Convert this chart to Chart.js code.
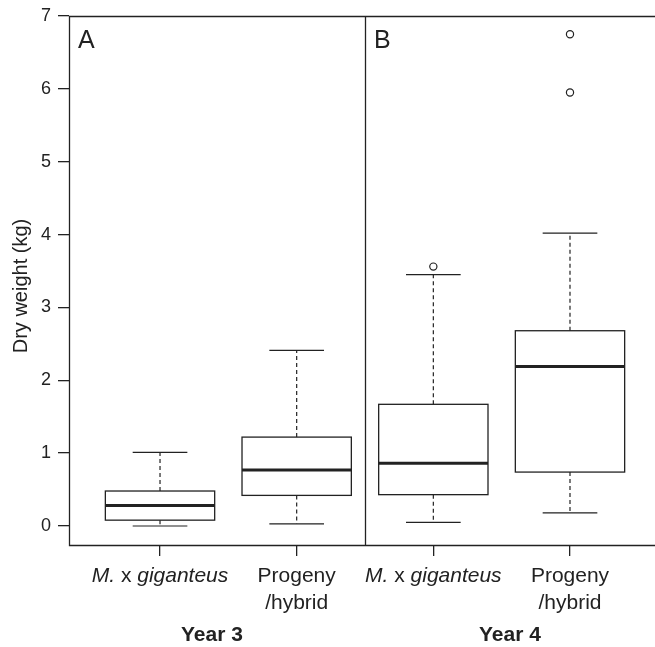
<!DOCTYPE html>
<html>
<head>
<meta charset="utf-8">
<script src="https://cdn.jsdelivr.net/npm/chart.js@4.4.1/dist/chart.umd.min.js"></script>
<style>
  html, body { margin: 0; padding: 0; background: #fff; }
  #wrap { width: 655px; height: 647px; }
</style>
</head>
<body>
<div id="wrap"><canvas id="c" width="655" height="647"></canvas></div>
<script>
// ---- data ----
const categories = ['M. x giganteus', 'Progeny/hybrid', 'M. x giganteus', 'Progeny/hybrid'];
const positions = [1, 2, 3, 4];
const years = ['Year 3', 'Year 4'];
const panels = ['A', 'B'];
const whiskerLow  = [0.00, 0.03, 0.05, 0.18];
const q1          = [0.08, 0.42, 0.43, 0.74];
const median      = [0.28, 0.77, 0.86, 2.19];
const q3          = [0.48, 1.22, 1.67, 2.68];
const whiskerHigh = [1.01, 2.41, 3.45, 4.02];
const outlierX = [3, 4, 4];
const outlierY = [3.56, 5.95, 6.75];
const yTicks = [0, 1, 2, 3, 4, 5, 6, 7];

const FONT = '"Liberation Sans", Arial, Helvetica, sans-serif';
const INK = '#222';

const boxPlugin = {
  id: 'boxes',
  beforeDatasetsDraw(chart) {
    const ctx = chart.ctx;
    const xs = chart.scales.x, ys = chart.scales.y;
    const ca = chart.chartArea;
    ctx.save();
    // frame (open on the right)
    ctx.strokeStyle = INK;
    ctx.lineWidth = 1.3;
    ctx.beginPath();
    ctx.moveTo(ca.right, ca.top + 0.5);
    ctx.lineTo(ca.left + 0.5, ca.top + 0.5);
    ctx.lineTo(ca.left + 0.5, ca.bottom + 0.5);
    ctx.lineTo(ca.right, ca.bottom + 0.5);
    const xd = Math.round(xs.getPixelForValue(2.5)) + 0.5;
    ctx.moveTo(xd, ca.top);
    ctx.lineTo(xd, ca.bottom);
    ctx.stroke();

    const boxHalf = 0.4, capHalf = 0.2;
    for (let i = 0; i < positions.length; i++) {
      const p = positions[i];
      const xc = xs.getPixelForValue(p);
      const xl = xs.getPixelForValue(p - boxHalf);
      const xr = xs.getPixelForValue(p + boxHalf);
      const cl = xs.getPixelForValue(p - capHalf);
      const cr = xs.getPixelForValue(p + capHalf);
      const yLo = ys.getPixelForValue(whiskerLow[i]);
      const yQ1 = ys.getPixelForValue(q1[i]);
      const yMd = ys.getPixelForValue(median[i]);
      const yQ3 = ys.getPixelForValue(q3[i]);
      const yHi = ys.getPixelForValue(whiskerHigh[i]);
      // whiskers dashed
      ctx.lineWidth = 1.2;
      ctx.strokeStyle = INK;
      ctx.setLineDash([4, 3]);
      ctx.beginPath();
      ctx.moveTo(xc, yQ3); ctx.lineTo(xc, yHi);
      ctx.moveTo(xc, yQ1); ctx.lineTo(xc, yLo);
      ctx.stroke();
      ctx.setLineDash([]);
      // caps
      ctx.beginPath();
      ctx.moveTo(cl, yHi); ctx.lineTo(cr, yHi);
      ctx.moveTo(cl, yLo); ctx.lineTo(cr, yLo);
      ctx.stroke();
      // box
      ctx.lineWidth = 1.3;
      ctx.strokeRect(xl, yQ3, xr - xl, yQ1 - yQ3);
      // median
      ctx.lineWidth = 3;
      ctx.beginPath();
      ctx.moveTo(xl, yMd); ctx.lineTo(xr, yMd);
      ctx.stroke();
    }
    ctx.restore();
  },
  afterDraw(chart) {
    const ctx = chart.ctx;
    const xs = chart.scales.x, ys = chart.scales.y;
    const ca = chart.chartArea;
    ctx.save();
    ctx.fillStyle = INK;
    ctx.textBaseline = 'alphabetic';
    // category labels
    const catSize = 21;
    for (let i = 0; i < categories.length; i++) {
      const xc = xs.getPixelForValue(positions[i]);
      const lab = categories[i];
      if (lab.startsWith('M. x')) {
        const parts = [
          { t: 'M.', it: true }, { t: ' x ', it: false }, { t: 'giganteus', it: true }
        ];
        let total = 0;
        parts.forEach(pt => {
          ctx.font = (pt.it ? 'italic ' : '') + catSize + 'px ' + FONT;
          pt.w = ctx.measureText(pt.t).width; total += pt.w;
        });
        let x = xc - total / 2;
        ctx.textAlign = 'left';
        parts.forEach(pt => {
          ctx.font = (pt.it ? 'italic ' : '') + catSize + 'px ' + FONT;
          ctx.fillText(pt.t, x, 582);
          x += pt.w;
        });
      } else {
        const lines = lab.split('/');
        ctx.font = catSize + 'px ' + FONT;
        ctx.textAlign = 'center';
        ctx.fillText(lines[0], xc, 582);
        ctx.fillText('/' + lines[1], xc, 609);
      }
    }
    // year labels
    ctx.font = 'bold 21px ' + FONT;
    ctx.textAlign = 'center';
    const yearPos = [1.38, 3.56];
    years.forEach((y, i) => ctx.fillText(y, xs.getPixelForValue(yearPos[i]), 641));
    // panel letters
    ctx.font = '25px ' + FONT;
    ctx.textAlign = 'left';
    const panelLeft = [xs.left, xs.getPixelForValue(2.5)];
    panels.forEach((p, i) => ctx.fillText(p, panelLeft[i] + 9, 48));
    // y title
    ctx.font = '20px ' + FONT;
    ctx.textAlign = 'center';
    ctx.translate(27, 286);
    ctx.rotate(-Math.PI / 2);
    ctx.fillText('Dry weight (kg)', 0, 0);
    ctx.restore();
  }
};

const outlierData = outlierX.map((x, i) => ({ x: x, y: outlierY[i] }));

new Chart(document.getElementById('c'), {
  type: 'scatter',
  data: {
    datasets: [{
      data: outlierData,
      pointRadius: 3.6,
      pointBorderWidth: 1.2,
      pointBackgroundColor: 'rgba(0,0,0,0)',
      pointBorderColor: INK,
      showLine: false
    }]
  },
  options: {
    responsive: false,
    devicePixelRatio: 1,
    animation: false,
    layout: { autoPadding: false, padding: { top: 16, right: 0, left: 0, bottom: 0 } },
    plugins: { legend: { display: false }, tooltip: { enabled: false } },
    scales: {
      x: {
        type: 'linear',
        min: 0.334, max: 4.622,
        afterBuildTicks: (axis) => { axis.ticks = positions.map(v => ({ value: v })); },
        afterFit: (axis) => { axis.height = 102; axis.paddingLeft = 0; axis.paddingRight = 0; },
        grid: { drawOnChartArea: false, drawTicks: true, tickLength: 11, color: INK, lineWidth: 1.3 },
        border: { display: false },
        ticks: { callback: () => '', padding: 0 }
      },
      y: {
        type: 'linear',
        min: -0.261, max: 7,
        afterBuildTicks: (axis) => { axis.ticks = yTicks.map(v => ({ value: v })); },
        afterFit: (axis) => { axis.width = 69; axis.paddingTop = 0; axis.paddingBottom = 0; },
        grid: { drawOnChartArea: false, drawTicks: true, tickLength: 11, color: INK, lineWidth: 1.3 },
        border: { display: false },
        ticks: { padding: 7, color: INK, font: { size: 18, family: FONT } }
      }
    }
  },
  plugins: [boxPlugin]
});
</script>
</body>
</html>
